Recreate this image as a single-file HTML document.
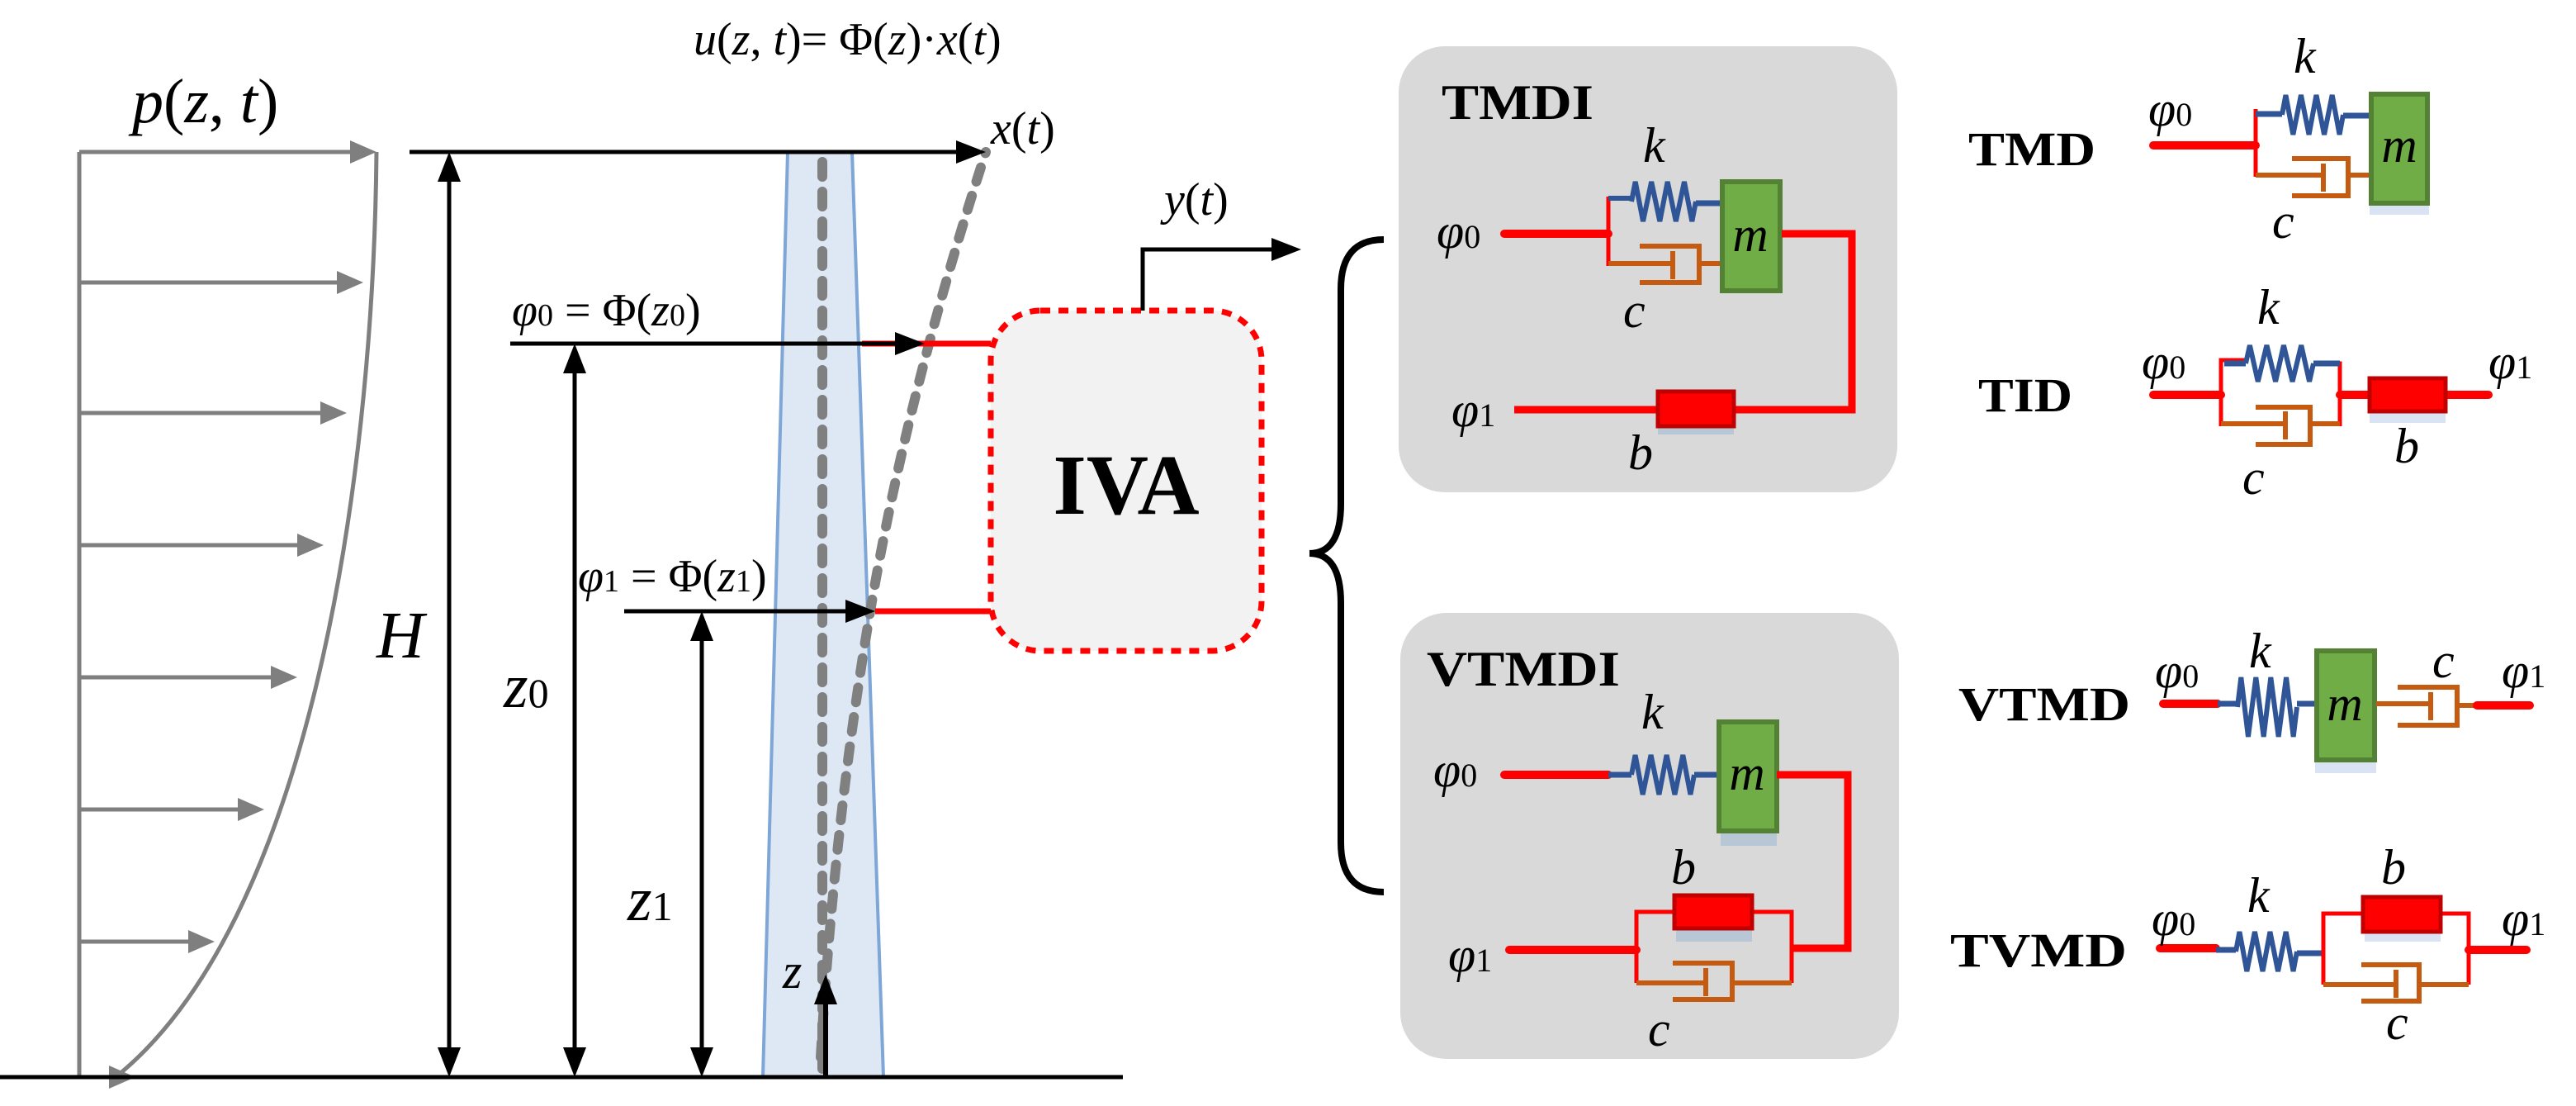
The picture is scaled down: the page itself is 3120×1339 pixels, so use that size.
<!DOCTYPE html>
<html><head><meta charset="utf-8"><style>
html,body{margin:0;padding:0;background:#fff;width:3120px;height:1339px;overflow:hidden}
svg{display:block}
text{font-family:"Liberation Serif","DejaVu Serif",serif}
.i{font-style:italic}
.n{font-style:normal}
.sp{fill:none;stroke:#2f5597;stroke-width:6;stroke-linejoin:miter}
</style></head><body>
<svg width="3120" height="1339" viewBox="0 0 1560 669.5" xmlns="http://www.w3.org/2000/svg">
<rect x="0" y="0" width="1560" height="670" fill="#fff"/>

<!-- load profile -->
<g stroke="#7f7f7f" stroke-width="2.5" fill="none">
<line x1="48" y1="92" x2="48" y2="652"/>
<path d="M228,92 C226,300 185,560 70,652"/>
<line x1="48" y1="92" x2="214" y2="92"/>
<line x1="48" y1="171" x2="206" y2="171"/>
<line x1="48" y1="250" x2="196" y2="250"/>
<line x1="48" y1="330" x2="182" y2="330"/>
<line x1="48" y1="410" x2="166" y2="410"/>
<line x1="48" y1="490" x2="146" y2="490"/>
<line x1="48" y1="570" x2="116" y2="570"/>
<line x1="48" y1="652" x2="66" y2="652"/>
</g>
<g fill="#7f7f7f">
<polygon points="228,92 212,85 212,99"/>
<polygon points="220,171 204,164 204,178"/>
<polygon points="210,250 194,243 194,257"/>
<polygon points="196,330 180,323 180,337"/>
<polygon points="180,410 164,403 164,417"/>
<polygon points="160,490 144,483 144,497"/>
<polygon points="130,570 114,563 114,577"/>
<polygon points="82,652 66,645 66,659"/>
</g>
<text x="80" y="74" class="i" font-size="38">p<tspan class="n">(</tspan>z<tspan class="n">, </tspan>t<tspan class="n">)</tspan></text>

<!-- tower -->
<polygon points="477,92 516,92 535,652 462,652" fill="#dee8f5" stroke="#7ea6d6" stroke-width="2"/>
<line x1="498" y1="98" x2="498" y2="648" stroke="#808080" stroke-width="6" stroke-dasharray="9,9" stroke-linecap="round"/>
<path d="M497,640 Q505,500 527,370 T597,92" fill="none" stroke="#808080" stroke-width="6" stroke-dasharray="9,9" stroke-linecap="round"/>

<!-- ground -->
<line x1="0" y1="652" x2="680" y2="652" stroke="#000" stroke-width="2.5"/>

<!-- top arrow -->
<line x1="248" y1="92" x2="582" y2="92" stroke="#000" stroke-width="2.5"/>
<polygon points="597,92 579,85 579,99" fill="#000"/>
<text x="600" y="87" class="i" font-size="28">x<tspan class="n">(</tspan>t<tspan class="n">)</tspan></text>
<text x="420" y="33" class="i" font-size="28">u<tspan class="n">(</tspan>z<tspan class="n">, </tspan>t<tspan class="n">)= Φ(</tspan>z<tspan class="n">)·</tspan>x<tspan class="n">(</tspan>t<tspan class="n">)</tspan></text>

<!-- H -->
<line x1="272" y1="100" x2="272" y2="644" stroke="#000" stroke-width="2.5"/>
<polygon points="272,92 265,110 279,110" fill="#000"/>
<polygon points="272,652 265,634 279,634" fill="#000"/>
<text x="228" y="398" class="i" font-size="40">H</text>

<!-- phi0 -->
<line x1="522" y1="208" x2="600" y2="208" stroke="#f00" stroke-width="3.5"/>
<line x1="309" y1="208" x2="545" y2="208" stroke="#000" stroke-width="2.5"/>
<polygon points="560,208 542,201 542,215" fill="#000"/>
<text x="310" y="197" class="i" font-size="28">φ<tspan class="n" font-size="19">0</tspan><tspan class="n"> = Φ(</tspan>z<tspan class="n" font-size="19">0</tspan><tspan class="n">)</tspan></text>
<line x1="348" y1="216" x2="348" y2="644" stroke="#000" stroke-width="2.5"/>
<polygon points="348,208 341,226 355,226" fill="#000"/>
<polygon points="348,652 341,634 355,634" fill="#000"/>
<text x="305" y="428" class="i" font-size="38">z<tspan class="n" font-size="25">0</tspan></text>

<!-- phi1 -->
<line x1="530" y1="370" x2="600" y2="370" stroke="#f00" stroke-width="3.5"/>
<line x1="378" y1="370" x2="515" y2="370" stroke="#000" stroke-width="2.5"/>
<polygon points="530,370 512,363 512,377" fill="#000"/>
<text x="350" y="358" class="i" font-size="28">φ<tspan class="n" font-size="19">1</tspan><tspan class="n"> = Φ(</tspan>z<tspan class="n" font-size="19">1</tspan><tspan class="n">)</tspan></text>
<line x1="425" y1="378" x2="425" y2="644" stroke="#000" stroke-width="2.5"/>
<polygon points="425,370 418,388 432,388" fill="#000"/>
<polygon points="425,652 418,634 432,634" fill="#000"/>
<text x="380" y="557" class="i" font-size="38">z<tspan class="n" font-size="25">1</tspan></text>

<!-- z arrow -->
<line x1="500" y1="652" x2="500" y2="604" stroke="#000" stroke-width="3"/>
<polygon points="500,590 493,608 507,608" fill="#000"/>
<text x="474" y="598" class="i" font-size="30">z</text>

<!-- IVA -->
<rect x="600" y="188" width="164" height="206" rx="30" fill="#f2f2f2" stroke="#f00" stroke-width="3.5" stroke-dasharray="6,5"/>
<text x="682" y="311" font-size="52" font-weight="bold" text-anchor="middle">IVA</text>
<polyline points="692,188 692,151 772,151" fill="none" stroke="#000" stroke-width="2.5"/>
<polygon points="788,151 770,144 770,158" fill="#000"/>
<text x="705" y="130" class="i" font-size="28">y<tspan class="n">(</tspan>t<tspan class="n">)</tspan></text>

<!-- brace -->
<path d="M838,145 Q812,145 812,175 L812,305 Q812,335 793,335 Q812,335 812,365 L812,510 Q812,540 838,540" fill="none" stroke="#000" stroke-width="4"/>

<!-- TMDI box -->
<rect x="847" y="28" width="302" height="270" rx="28" fill="#d9d9d9"/>
<text x="873" y="72" font-size="30" font-weight="bold" textLength="92" lengthAdjust="spacingAndGlyphs">TMDI</text>
<g>
<rect x="1042" y="126" width="37" height="16" fill="#b8c7d6"/>
<line x1="911" y1="141.5" x2="974" y2="141.5" stroke="#f00" stroke-width="5" stroke-linecap="round"/>
<line x1="974" y1="119" x2="974" y2="161" stroke="#f00" stroke-width="2.5"/>
<polyline points="974,120 988,120" stroke="#2f5597" stroke-width="3" fill="none"/>
<g transform="translate(988,122) scale(39,12)"><polyline points="0,0 0.06,-1 0.18,1 0.31,-1 0.44,1 0.56,-1 0.69,1 0.82,-1 0.94,1 1,0" class="sp" vector-effect="non-scaling-stroke"/></g>
<line x1="1027" y1="123" x2="1042" y2="123" stroke="#2f5597" stroke-width="3.5"/>
<g stroke="#c55a11" stroke-width="3" fill="none">
<line x1="974" y1="159.5" x2="1013" y2="159.5"/>
<polyline points="993,149 1029,149 1029,171 993,171"/>
<line x1="1013" y1="152" x2="1013" y2="169"/>
<line x1="1029" y1="159.5" x2="1042" y2="159.5"/>
</g>
<rect x="1043" y="110" width="35" height="66" fill="#70ad47" stroke="#548235" stroke-width="3"/>
<text x="1060" y="152" class="i" font-size="30" text-anchor="middle">m</text>
<polyline points="1079,141.5 1121.5,141.5 1121.5,248 917,248" fill="none" stroke="#f00" stroke-width="4.5"/>
<rect x="1004" y="253" width="46" height="10" fill="#b8c7d6"/>
<rect x="1004" y="237" width="46" height="21" fill="#f00" stroke="#c00000" stroke-width="2.5"/>
<text x="870" y="150" class="i" font-size="30">φ<tspan class="n" font-size="20">0</tspan></text>
<text x="879" y="258" class="i" font-size="30">φ<tspan class="n" font-size="20">1</tspan></text>
<text x="995" y="98" class="i" font-size="30">k</text>
<text x="983" y="198" class="i" font-size="30">c</text>
<text x="986" y="284" class="i" font-size="30">b</text>
</g>

<!-- TMD -->
<text x="1192" y="100" font-size="29" font-weight="bold" textLength="77" lengthAdjust="spacingAndGlyphs">TMD</text>
<rect x="1435" y="118" width="36" height="12" fill="#dae3f3"/>
<line x1="1304" y1="88" x2="1366" y2="88" stroke="#f00" stroke-width="5" stroke-linecap="round"/>
<line x1="1366" y1="66" x2="1366" y2="107" stroke="#f00" stroke-width="2.5"/>
<line x1="1366" y1="69" x2="1382" y2="69" stroke="#2f5597" stroke-width="3.5"/>
<g transform="translate(1382,69.5) scale(37,12)"><polyline points="0,0 0.06,-1 0.18,1 0.31,-1 0.44,1 0.56,-1 0.69,1 0.82,-1 0.94,1 1,0" class="sp" vector-effect="non-scaling-stroke"/></g>
<line x1="1419" y1="70" x2="1435" y2="70" stroke="#2f5597" stroke-width="3.5"/>
<g stroke="#c55a11" stroke-width="3" fill="none">
<line x1="1366" y1="106" x2="1407" y2="106"/>
<polyline points="1388,96 1422,96 1422,118.5 1388,118.5"/>
<line x1="1407" y1="99" x2="1407" y2="116"/>
<line x1="1422" y1="106" x2="1435" y2="106"/>
</g>
<rect x="1436" y="57" width="34" height="66" fill="#70ad47" stroke="#548235" stroke-width="3"/>
<text x="1453" y="98" class="i" font-size="30" text-anchor="middle">m</text>
<text x="1301" y="76" class="i" font-size="30">φ<tspan class="n" font-size="20">0</tspan></text>
<text x="1389" y="44" class="i" font-size="30">k</text>
<text x="1376" y="144" class="i" font-size="30">c</text>

<!-- TID -->
<text x="1198" y="249" font-size="29" font-weight="bold" textLength="57" lengthAdjust="spacingAndGlyphs">TID</text>
<line x1="1304" y1="239" x2="1345" y2="239" stroke="#f00" stroke-width="5" stroke-linecap="round"/>
<polyline points="1360,218 1345,218 1345,258" fill="none" stroke="#f00" stroke-width="2.5"/>
<polyline points="1401,220 1417,220 1417,258" fill="none" stroke="#f00" stroke-width="2.5"/>
<line x1="1347" y1="220" x2="1360" y2="220" stroke="#2f5597" stroke-width="3.5"/>
<g transform="translate(1360,220) scale(41,11)"><polyline points="0,0 0.06,-1 0.18,1 0.31,-1 0.44,1 0.56,-1 0.69,1 0.82,-1 0.94,1 1,0" class="sp" vector-effect="non-scaling-stroke"/></g>
<line x1="1401" y1="220" x2="1417" y2="220" stroke="#2f5597" stroke-width="3.5"/>
<g stroke="#c55a11" stroke-width="3" fill="none">
<line x1="1345" y1="256.5" x2="1384" y2="256.5"/>
<polyline points="1366,246.5 1399,246.5 1399,269 1366,269"/>
<line x1="1384" y1="249" x2="1384" y2="266"/>
<line x1="1399" y1="256.5" x2="1417" y2="256.5"/>
</g>
<line x1="1417" y1="239" x2="1507" y2="239" stroke="#f00" stroke-width="5" stroke-linecap="round"/>
<rect x="1435" y="244" width="46" height="12" fill="#dae3f3"/>
<rect x="1435" y="229" width="46" height="20" fill="#f00" stroke="#c00000" stroke-width="2.5"/>
<text x="1297" y="229" class="i" font-size="30">φ<tspan class="n" font-size="20">0</tspan></text>
<text x="1507" y="229" class="i" font-size="30">φ<tspan class="n" font-size="20">1</tspan></text>
<text x="1367" y="196" class="i" font-size="30">k</text>
<text x="1450" y="280" class="i" font-size="30">b</text>
<text x="1358" y="299" class="i" font-size="30">c</text>

<!-- VTMDI box -->
<rect x="848" y="371" width="302" height="270" rx="28" fill="#d9d9d9"/>
<text x="864" y="415" font-size="30" font-weight="bold" textLength="117" lengthAdjust="spacingAndGlyphs">VTMDI</text>
<rect x="1042" y="500" width="34" height="12" fill="#b8c7d6"/>
<line x1="911" y1="469" x2="974" y2="469" stroke="#f00" stroke-width="5" stroke-linecap="round"/>
<line x1="974" y1="469" x2="988" y2="469" stroke="#2f5597" stroke-width="3.5"/>
<g transform="translate(988,469) scale(38,12)"><polyline points="0,0 0.06,-1 0.18,1 0.31,-1 0.44,1 0.56,-1 0.69,1 0.82,-1 0.94,1 1,0" class="sp" vector-effect="non-scaling-stroke"/></g>
<line x1="1026" y1="469" x2="1041" y2="469" stroke="#2f5597" stroke-width="3.5"/>
<rect x="1041" y="437" width="35" height="66" fill="#70ad47" stroke="#548235" stroke-width="3"/>
<text x="1058" y="478" class="i" font-size="30" text-anchor="middle">m</text>
<polyline points="1076,469 1119,469 1119,574 1085,574" fill="none" stroke="#f00" stroke-width="4.5"/>
<line x1="914" y1="575" x2="991" y2="575" stroke="#f00" stroke-width="5" stroke-linecap="round"/>
<polyline points="991,595 991,552 1085,552 1085,595" fill="none" stroke="#f00" stroke-width="2.5"/>
<rect x="1015" y="558" width="46" height="12" fill="#b8c7d6"/>
<rect x="1014" y="542" width="47" height="20" fill="#f00" stroke="#c00000" stroke-width="2.5"/>
<g stroke="#c55a11" stroke-width="3" fill="none">
<line x1="991" y1="595" x2="1033" y2="595"/>
<polyline points="1013,583 1049,583 1049,605 1013,605"/>
<line x1="1033" y1="586" x2="1033" y2="603"/>
<line x1="1049" y1="595" x2="1085" y2="595"/>
</g>
<text x="868" y="476" class="i" font-size="30">φ<tspan class="n" font-size="20">0</tspan></text>
<text x="877" y="588" class="i" font-size="30">φ<tspan class="n" font-size="20">1</tspan></text>
<text x="994" y="441" class="i" font-size="30">k</text>
<text x="1012" y="535" class="i" font-size="30">b</text>
<text x="998" y="633" class="i" font-size="30">c</text>

<!-- VTMD -->
<text x="1186" y="436" font-size="29" font-weight="bold" textLength="104" lengthAdjust="spacingAndGlyphs">VTMD</text>
<rect x="1402" y="458" width="37" height="10" fill="#dae3f3"/>
<line x1="1310" y1="426" x2="1343" y2="426" stroke="#f00" stroke-width="5" stroke-linecap="round"/>
<line x1="1343" y1="426" x2="1355" y2="426" stroke="#2f5597" stroke-width="3.5"/>
<g transform="translate(1355,428) scale(36,18)"><polyline points="0,0 0.06,-1 0.18,1 0.31,-1 0.44,1 0.56,-1 0.69,1 0.82,-1 0.94,1 1,0" class="sp" vector-effect="non-scaling-stroke"/></g>
<line x1="1391" y1="426" x2="1402" y2="426" stroke="#2f5597" stroke-width="3.5"/>
<rect x="1403" y="394" width="35" height="66" fill="#70ad47" stroke="#548235" stroke-width="3"/>
<text x="1420" y="436" class="i" font-size="30" text-anchor="middle">m</text>
<g stroke="#c55a11" stroke-width="3" fill="none">
<line x1="1439" y1="426" x2="1472" y2="426"/>
<polyline points="1452,416 1488,416 1488,439 1452,439"/>
<line x1="1472" y1="419" x2="1472" y2="436"/>
<line x1="1488" y1="427" x2="1500" y2="427"/>
</g>
<line x1="1500" y1="427" x2="1532" y2="427" stroke="#f00" stroke-width="5" stroke-linecap="round"/>
<text x="1305" y="416" class="i" font-size="30">φ<tspan class="n" font-size="20">0</tspan></text>
<text x="1515" y="416" class="i" font-size="30">φ<tspan class="n" font-size="20">1</tspan></text>
<text x="1362" y="404" class="i" font-size="30">k</text>
<text x="1473" y="410" class="i" font-size="30">c</text>

<!-- TVMD -->
<text x="1181" y="585" font-size="29" font-weight="bold" textLength="107" lengthAdjust="spacingAndGlyphs">TVMD</text>
<line x1="1308" y1="574" x2="1342" y2="574" stroke="#f00" stroke-width="5" stroke-linecap="round"/>
<line x1="1342" y1="575" x2="1354" y2="575" stroke="#2f5597" stroke-width="3.5"/>
<g transform="translate(1354,576) scale(37,12)"><polyline points="0,0 0.06,-1 0.18,1 0.31,-1 0.44,1 0.56,-1 0.69,1 0.82,-1 0.94,1 1,0" class="sp" vector-effect="non-scaling-stroke"/></g>
<line x1="1391" y1="577" x2="1407" y2="577" stroke="#2f5597" stroke-width="3.5"/>
<polyline points="1407,596 1407,553 1495,553 1495,596" fill="none" stroke="#f00" stroke-width="2.5"/>
<rect x="1432" y="558" width="46" height="12" fill="#dae3f3"/>
<rect x="1431" y="543" width="47" height="21" fill="#f00" stroke="#c00000" stroke-width="2.5"/>
<g stroke="#c55a11" stroke-width="3" fill="none">
<line x1="1407" y1="596" x2="1451" y2="596"/>
<polyline points="1430,584 1465,584 1465,606 1430,606"/>
<line x1="1451" y1="587" x2="1451" y2="604"/>
<line x1="1465" y1="596" x2="1495" y2="596"/>
</g>
<line x1="1495" y1="575" x2="1530" y2="575" stroke="#f00" stroke-width="5" stroke-linecap="round"/>
<text x="1303" y="566" class="i" font-size="30">φ<tspan class="n" font-size="20">0</tspan></text>
<text x="1515" y="566" class="i" font-size="30">φ<tspan class="n" font-size="20">1</tspan></text>
<text x="1361" y="552" class="i" font-size="30">k</text>
<text x="1442" y="535" class="i" font-size="30">b</text>
<text x="1445" y="629" class="i" font-size="30">c</text>
</svg>
</body></html>
